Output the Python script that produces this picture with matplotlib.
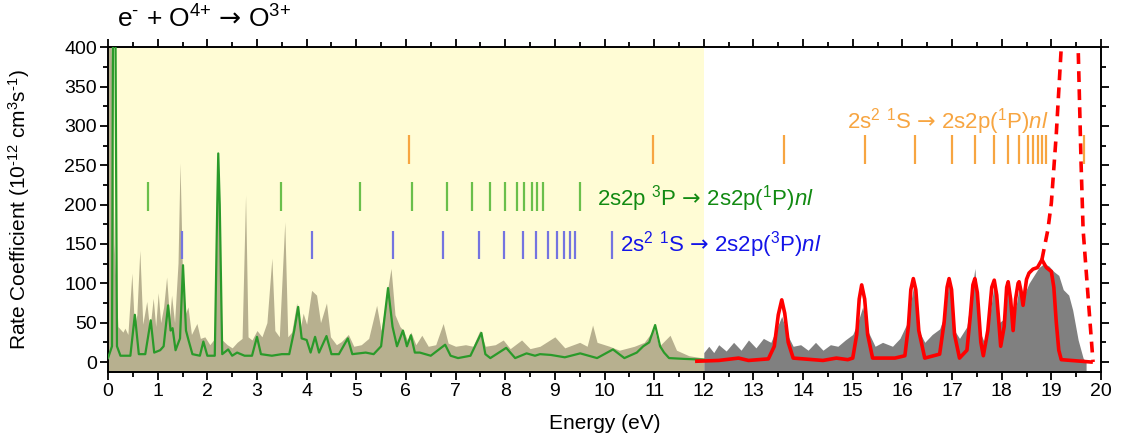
import numpy as np
import matplotlib.pyplot as plt
from matplotlib.ticker import MultipleLocator

plt.rcParams['font.family'] = ['Liberation Sans', 'DejaVu Sans']
plt.rcParams['mathtext.fontset'] = 'custom'
plt.rcParams['mathtext.rm'] = 'Liberation Sans'
plt.rcParams['mathtext.it'] = 'Liberation Sans:italic'
plt.rcParams['mathtext.bf'] = 'Liberation Sans:bold'
plt.rcParams['mathtext.sf'] = 'DejaVu Sans'

# measured spectrum, 0-12 eV (tan fill)
e_tan = [0.0, 0.06, 0.12, 0.2, 0.3, 0.34, 0.4, 0.48, 0.53, 0.58, 0.64, 0.7, 0.78, 0.84, 0.91,
         0.96, 1.01, 1.06, 1.12, 1.18, 1.24, 1.28, 1.34, 1.41, 1.45, 1.5, 1.55, 1.61, 1.68, 1.79,
         1.86, 1.95, 2.05, 2.15, 2.2, 2.22, 2.25, 2.3, 2.4, 2.5, 2.6, 2.7, 2.77, 2.82, 2.9, 3.0,
         3.1, 3.2, 3.3, 3.36, 3.45, 3.56, 3.62, 3.7, 3.8, 3.87, 3.93, 4.0, 4.1, 4.2, 4.28, 4.4,
         4.48, 4.6, 4.7, 4.84, 4.95, 5.1, 5.25, 5.41, 5.5, 5.6, 5.7, 5.78, 5.88, 5.95, 6.03, 6.1,
         6.2, 6.32, 6.45, 6.6, 6.75, 6.85, 7.0, 7.2, 7.35, 7.49, 7.6, 7.8, 7.96, 8.1, 8.33, 8.5,
         8.7, 9.0, 9.2, 9.5, 9.65, 9.76, 9.85, 10.1, 10.3, 10.6, 10.8, 11.0, 11.1, 11.32, 11.45,
         11.7, 12.0]
v_tan = [420, 420, 150, 45, 38, 43, 35, 113, 45, 60, 142, 48, 77, 40, 81,
         45, 88, 50, 70, 108, 55, 85, 50, 126, 253, 110, 60, 70, 35, 49,
         30, 32, 22, 30, 180, 262, 120, 28, 22, 18, 25, 30, 212, 32, 28, 40,
         32, 50, 132, 40, 32, 178, 32, 38, 75, 42, 62, 48, 91, 85, 50, 75,
         32, 22, 26, 35, 20, 22, 30, 72, 40, 80, 119, 60, 45, 40, 28, 38,
         22, 34, 20, 22, 49, 24, 20, 22, 20, 40, 20, 22, 28, 17, 28, 17,
         20, 32, 18, 25, 20, 47, 25, 20, 15, 20, 25, 42, 20, 34, 15,
         8, 5]

# theory, 0-12 eV (green line)
e_grn = [0.0, 0.08, 0.1, 0.15, 0.18, 0.25, 0.45, 0.54, 0.62, 0.75, 0.86, 0.93, 1.05, 1.12, 1.21,
         1.26, 1.3, 1.36, 1.45, 1.51, 1.57, 1.62, 1.7, 1.85, 1.92, 2.0, 2.15, 2.2, 2.22, 2.25,
         2.3, 2.42, 2.5, 2.6, 2.75, 2.9, 3.0, 3.08, 3.3, 3.5, 3.65, 3.75, 3.83, 3.9, 4.0, 4.08,
         4.17, 4.25, 4.4, 4.5, 4.65, 4.83, 4.92, 5.19, 5.35, 5.5, 5.64, 5.73, 5.82, 5.94, 6.02,
         6.1, 6.18, 6.28, 6.5, 6.79, 6.9, 7.05, 7.3, 7.52, 7.6, 7.7, 8.02, 8.2, 8.43, 8.6, 8.7,
         8.92, 9.2, 9.51, 9.85, 10.17, 10.4, 10.65, 10.78, 10.9, 11.02, 11.12, 11.2, 11.3, 11.6,
         12.0]
v_grn = [5, 20, 420, 420, 20, 8, 8, 60, 10, 10, 53, 12, 15, 20, 72,
         40, 43, 15, 30, 123, 40, 28, 10, 8, 26, 8, 8, 200, 265, 200,
         10, 16, 8, 12, 8, 8, 32, 10, 8, 10, 10, 40, 70, 30, 28, 12,
         32, 12, 33, 10, 10, 30, 10, 12, 10, 20, 94, 45, 20, 40, 20,
         34, 12, 12, 8, 22, 8, 5, 8, 37, 10, 5, 18, 5, 11, 8, 10,
         9, 6, 11, 5, 16, 5, 12, 20, 25, 47, 20, 12, 5, 4,
         3]

# measured spectrum, 12-20 eV (gray fill)
e_gry = [12.0, 12.1, 12.2, 12.3, 12.45, 12.6, 12.75, 12.9, 13.05, 13.2, 13.35, 13.45, 13.57, 13.68,
         13.8, 13.95, 14.1, 14.25, 14.4, 14.55, 14.7, 14.85, 15.0, 15.1, 15.2, 15.3, 15.45, 15.6,
         15.8, 15.95, 16.1, 16.22, 16.33, 16.45, 16.6, 16.75, 16.85, 16.94, 17.05, 17.15, 17.3,
         17.46, 17.55, 17.65, 17.75, 17.85, 17.95, 18.05, 18.13, 18.2, 18.3, 18.35, 18.45, 18.55,
         18.65, 18.75, 18.85, 18.95, 19.05, 19.15, 19.24, 19.35, 19.43, 19.54, 19.64, 19.7]
v_gry = [12, 20, 12, 22, 14, 25, 15, 28, 18, 30, 25, 40, 58, 35,
         20, 22, 15, 25, 15, 22, 20, 28, 35, 50, 70, 40, 20, 25,
         20, 30, 50, 95, 40, 25, 35, 42, 60, 103, 40, 30, 45,
         119, 40, 25, 55, 100, 50, 55, 95, 50, 75, 95, 85, 100,
         110, 120, 125, 122, 115, 110, 92, 85, 66, 28, 5, 0]

# theory, 12-20 eV (red line)
e_red = [11.86, 12.3, 12.7, 12.9, 13.3, 13.42, 13.5, 13.57, 13.63, 13.7, 13.8,
         14.4, 14.67, 14.9, 15.0, 15.08, 15.13, 15.18, 15.24, 15.3, 15.4,
         15.85, 16.05, 16.12, 16.17, 16.22, 16.27, 16.33, 16.45,
         16.75, 16.84, 16.9, 16.94, 16.99, 17.05, 17.15,
         17.3, 17.37, 17.42, 17.46, 17.51, 17.58, 17.63,
         17.72, 17.8, 17.85, 17.9, 17.98, 18.05, 18.1, 18.13, 18.18, 18.23,
         18.28, 18.33, 18.35, 18.39, 18.43, 18.5, 18.55, 18.63, 18.72, 18.81, 18.9,
         19.0, 19.05, 19.1, 19.15, 19.2, 19.8]
v_red = [1, 2, 5, 2, 4, 20, 60, 79, 62, 25, 5,
         2, 5, 3, 5, 35, 80, 98, 80, 35, 5,
         5, 8, 45, 92, 106, 92, 40, 5,
         10, 50, 95, 106, 92, 35, 5,
         15, 60, 98, 106, 88, 25, 8,
         40, 95, 104, 85, 20, 45, 95, 102, 80, 40,
         80, 100, 102, 90, 72, 105, 113, 118, 120, 130, 120,
         115, 95, 50, 15, 3, 0]

# theory near the series limit (red dashed)
e_dash = [18.81, 18.93, 19.0, 19.1, 19.2, 19.38, 19.54, 19.6, 19.64, 19.74, 19.84]
v_dash = [130, 168, 202, 290, 400, 700, 400, 250, 168, 83, 0]

# resonance positions
pos_orange = [6.07, 10.97, 13.61, 15.24, 16.26, 16.99, 17.47, 17.85, 18.13, 18.35, 18.53, 18.63,
              18.73, 18.81, 18.89, 19.66]
pos_green = [0.80, 3.48, 5.07, 6.12, 6.83, 7.33, 7.70, 8.00, 8.23, 8.38, 8.53, 8.65, 8.76, 9.51]
pos_blue = [1.48, 4.11, 5.73, 6.75, 7.48, 7.98, 8.35, 8.63, 8.87, 9.05, 9.19, 9.30, 9.41, 10.15]

arrow = r'$\mathsf{→}$'

fig = plt.figure(figsize=(11.23, 4.45), dpi=100)
ax = fig.add_axes([0.0962, 0.164, 0.8842, 0.730])

ax.axvspan(0, 12, color='#fffcd5', zorder=0, lw=0)
ax.fill_between(e_tan, v_tan, -20, color='#b7b08f', lw=0, zorder=1)
ax.fill_between(e_gry, v_gry, -20, color='#808080', lw=0, zorder=1)
ax.plot(e_grn, v_grn, color='#2a9a2a', lw=1.6, zorder=3)
ax.plot(e_red, v_red, color='#ff0000', lw=2.6, zorder=3)
ax.plot(e_dash, v_dash, color='#ff0000', lw=2.6, ls=(0, (3, 2)), zorder=3)

ax.vlines(pos_orange, 251, 288, color='#f7a541', lw=1.6, zorder=4)
ax.vlines(pos_green, 192, 229, color='#6abf4b', lw=1.6, zorder=4)
ax.vlines(pos_blue, 131, 166, color='#7474e0', lw=1.6, zorder=4)

ax.text(18.95, 305, r'2s$^{\text{2}}$ $^{\text{1}}$S ' + arrow + r' 2s2p($^{\text{1}}$P)$\mathit{nl}$',
        color='#f7a541', fontsize=16, ha='right', va='center')
ax.text(9.85, 208, r'2s2p $^{\text{3}}$P ' + arrow + r' 2s2p($^{\text{1}}$P)$\mathit{nl}$',
        color='#128a12', fontsize=16, ha='left', va='center')
ax.text(10.31, 149, r'2s$^{\text{2}}$ $^{\text{1}}$S ' + arrow + r' 2s2p($^{\text{3}}$P)$\mathit{nl}$',
        color='#1414e8', fontsize=16, ha='left', va='center')

ax.set_xlim(0, 20)
ax.set_ylim(-12.7, 400)
ax.xaxis.set_major_locator(MultipleLocator(1))
ax.xaxis.set_minor_locator(MultipleLocator(0.5))
ax.yaxis.set_major_locator(MultipleLocator(50))
ax.yaxis.set_minor_locator(MultipleLocator(25))
ax.tick_params(which='both', direction='out', top=True, right=True, width=1.3, labelsize=14)
ax.tick_params(which='major', length=6, pad=2)
ax.tick_params(which='minor', length=3.5)
for s in ax.spines.values():
    s.set_linewidth(1.4)

ax.set_xlabel('Energy (eV)', fontsize=15, labelpad=10)
ax.set_ylabel(r'Rate Coefficient (10$^{\text{-12}}$ cm$^{\text{3}}$s$^{\text{-1}}$)', fontsize=15)
ax.yaxis.set_label_coords(-0.077, 0.5)

fig.text(0.104, 0.958, r'e$^{\text{-}}$ + O$^{\text{4+}}$ ' + arrow + r' O$^{\text{3+}}$',
         fontsize=19, ha='left', va='center')

fig.savefig('out.png', dpi=100)
